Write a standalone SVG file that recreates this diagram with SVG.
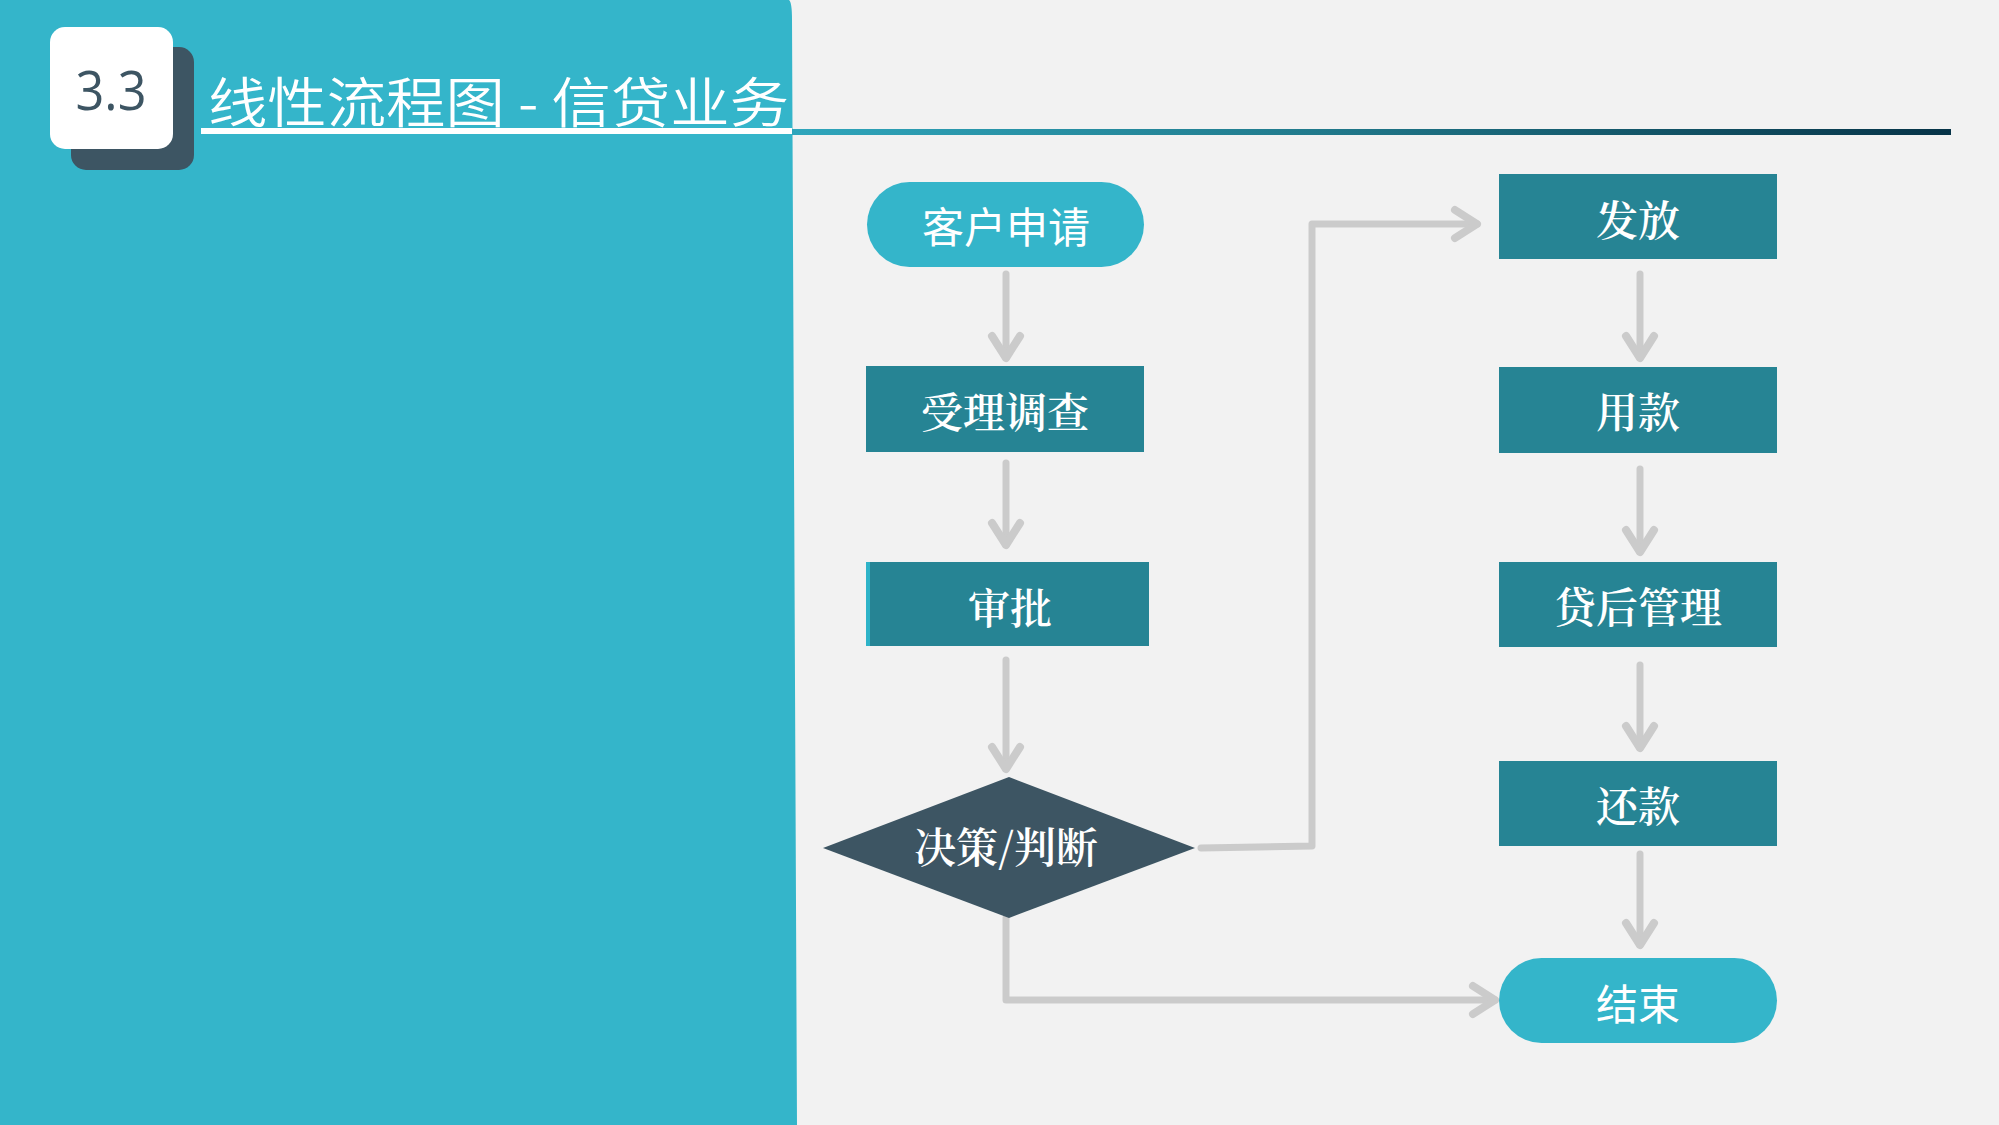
<svg xmlns="http://www.w3.org/2000/svg" width="1999" height="1125" viewBox="0 0 1999 1125">
  <defs>
    <linearGradient id="lineGrad" x1="0" y1="0" x2="1" y2="0">
      <stop offset="0" stop-color="#2FA6BC"/>
      <stop offset="0.45" stop-color="#217A8C"/>
      <stop offset="1" stop-color="#073448"/>
    </linearGradient>
    <marker id="arrow" viewBox="-30 -20 36 40" markerWidth="36" markerHeight="40" refX="0" refY="0" orient="auto" markerUnits="userSpaceOnUse">
      <path d="M-22,-14 L0,0 L-22,14" fill="none" stroke="#CBCBCB" stroke-width="8" stroke-linecap="round" stroke-linejoin="round"/>
    </marker>
  </defs>
  <style>
    .node-text { font-family: "Noto Serif CJK SC", "Noto Sans CJK SC", sans-serif; font-size: 42px; font-weight: 600; fill: #FFFFFF; text-anchor: middle; }
    .sans-text { font-family: "Noto Sans CJK SC", sans-serif; font-size: 42px; fill: #FFFFFF; text-anchor: middle; }
    .rect-node { fill: #268494; }
    .pill-node { fill: #34B5CA; }
    .conn { fill: none; stroke: #CBCBCB; stroke-width: 7; stroke-linecap: round; stroke-linejoin: round; marker-end: url(#arrow); }
  </style>

  <!-- background -->
  <rect x="0" y="0" width="1999" height="1125" fill="#F2F2F2"/>
  <path d="M0,0 L789,0 Q792,2 792,20 L797,1125 L0,1125 Z" fill="#34B5CA"/>

  <!-- header -->
  <g id="header">
    <rect x="71" y="47" width="123" height="123" rx="15" fill="#3D5563"/>
    <rect x="50" y="27" width="123" height="122" rx="15" fill="#FFFFFF"/>
    <text x="111" y="110" font-family="'Open Sans', 'Noto Sans', sans-serif" font-size="54" fill="#3D5563" text-anchor="middle" textLength="71" lengthAdjust="spacingAndGlyphs">3.3</text>
    <text x="208" y="123" font-family="'Noto Sans CJK SC', sans-serif" font-weight="350" font-size="54" fill="#FFFFFF" textLength="581" lengthAdjust="spacingAndGlyphs">线性流程图 - 信贷业务</text>
    <rect x="201" y="128" width="591" height="6" fill="#FFFFFF"/>
    <rect x="792" y="129" width="1159" height="6" fill="url(#lineGrad)"/>
  </g>

  <!-- connectors -->
  <g id="connectors">
    <path class="conn" d="M1006,274 L1006,358"/>
    <path class="conn" d="M1006,463 L1006,545"/>
    <path class="conn" d="M1006,660 L1006,769"/>
    <path class="conn" d="M1201,848 L1312,846 L1312,224 L1477,224"/>
    <path class="conn" d="M1006,918 L1006,1000 L1495,1000"/>
    <path class="conn" d="M1640,274 L1640,358"/>
    <path class="conn" d="M1640,469 L1640,552"/>
    <path class="conn" d="M1640,665 L1640,748"/>
    <path class="conn" d="M1640,854 L1640,945"/>
  </g>

  <!-- nodes -->
  <g id="node-apply">
    <rect class="pill-node" x="867" y="182" width="277" height="85" rx="42.5"/>
    <text class="sans-text" x="1006" y="243">客户申请</text>
  </g>
  <g id="node-accept">
    <rect class="rect-node" x="866" y="366" width="278" height="86"/>
    <text class="node-text" x="1005" y="428">受理调查</text>
  </g>
  <g id="node-approve">
    <rect class="rect-node" x="866" y="562" width="283" height="84"/>
    <rect x="866" y="562" width="4" height="84" fill="#2EB3C8"/>
    <text class="node-text" x="1010" y="624">审批</text>
  </g>
  <g id="node-decision">
    <polygon points="1009,777 1195,848 1009,918 823,848" fill="#3D5563"/>
    <text class="node-text" x="1006" y="863">决策/判断</text>
  </g>
  <g id="node-issue">
    <rect class="rect-node" x="1499" y="174" width="278" height="85"/>
    <text class="node-text" x="1638" y="236">发放</text>
  </g>
  <g id="node-use">
    <rect class="rect-node" x="1499" y="367" width="278" height="86"/>
    <text class="node-text" x="1638" y="428">用款</text>
  </g>
  <g id="node-post">
    <rect class="rect-node" x="1499" y="562" width="278" height="85"/>
    <text class="node-text" x="1638" y="623">贷后管理</text>
  </g>
  <g id="node-repay">
    <rect class="rect-node" x="1499" y="761" width="278" height="85"/>
    <text class="node-text" x="1638" y="822">还款</text>
  </g>
  <g id="node-end">
    <rect class="pill-node" x="1499" y="958" width="278" height="85" rx="42.5"/>
    <text class="sans-text" x="1638" y="1020">结束</text>
  </g>
</svg>
